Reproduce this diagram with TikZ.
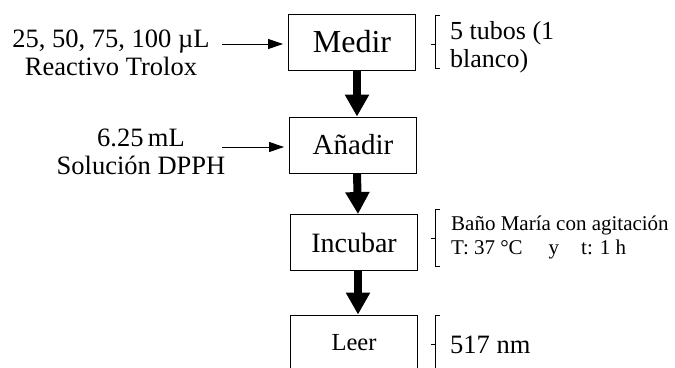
\documentclass[tikz,border=0pt]{standalone}
\usepackage{fontspec}
\setmainfont{Liberation Serif}
\usetikzlibrary{arrows.meta}

\begin{document}
\begin{tikzpicture}[x=1pt, y=-1pt,
    paso/.style={draw, line width=0.9pt, minimum width=127pt, minimum height=56pt, inner sep=0pt},
    flecha/.style={-{Triangle[width=23pt, length=22pt]}, line width=8pt},
    entrada/.style={-{Triangle[width=10pt, length=15pt]}, line width=1pt, shorten >=5pt},
    llave/.style={line width=1pt},
    lado/.style={align=center, inner sep=0pt, anchor=base, font=\fontsize{26.5}{28}\selectfont},
    nota/.style={align=left, inner sep=0pt, anchor=base west}]

            \useasboundingbox (0,0) rectangle (675,367);

            % Nodes
            \node[paso, font=\fontsize{32}{36}\selectfont] (medir) at (352,42) {Medir};
            \node[paso, font=\fontsize{29}{32}\selectfont] (anadir) at (353,145) {Añadir};
            \node[paso, font=\fontsize{28}{32}\selectfont] (incubar) at (354,242.5) {Incubar};
            \node[paso, font=\fontsize{24.5}{28}\selectfont] (leer) at (354,343) {Leer};

            % Inputs (base = last line)
            \node[lado] (trolox) at (111,75) {25, 50, 75, 100 µL\\Reactivo Trolox};
            \node[lado] (dpph) at (141,174) {6.25\,mL\\Solución DPPH};
            \coordinate (t1) at (222,44);
            \coordinate (d1) at (222,147);
            \draw[entrada] (t1) -- (t1 -| medir.west);
            \draw[entrada] (d1) -- (d1 -| anadir.west);

            % Steps
            \draw[flecha] ([xshift=5pt]medir.south) -- ([xshift=4pt]anadir.north);
            \draw[flecha] ([xshift=4pt]anadir.south) -- ([xshift=4pt]incubar.north);
            \draw[flecha] ([xshift=4pt]incubar.south) -- ([xshift=4pt]leer.north);

            % Braces
            \foreach \t/\m/\b in {15/44/68, 209/238/266, 315/344/372}{
              \draw[llave] (440,\t) -- (435,\t) -- (435,\b) -- (440,\b);
              \draw[llave] (431,\m) -- (435,\m);
            }

            % Notes
            \node[nota, font=\fontsize{26}{28}\selectfont] (tubos) at (450,67) {5 tubos (1\\blanco)};
            \node[nota, font=\fontsize{21}{24}\selectfont] (bano) at (451,254) {Baño María con agitación\\T: 37 °C\hspace{26pt}y\hspace{22pt}t: 1 h};
            \node[nota, font=\fontsize{26.5}{28}\selectfont] (nm) at (450,353) {517 nm};

          \end{tikzpicture}
\end{document}
